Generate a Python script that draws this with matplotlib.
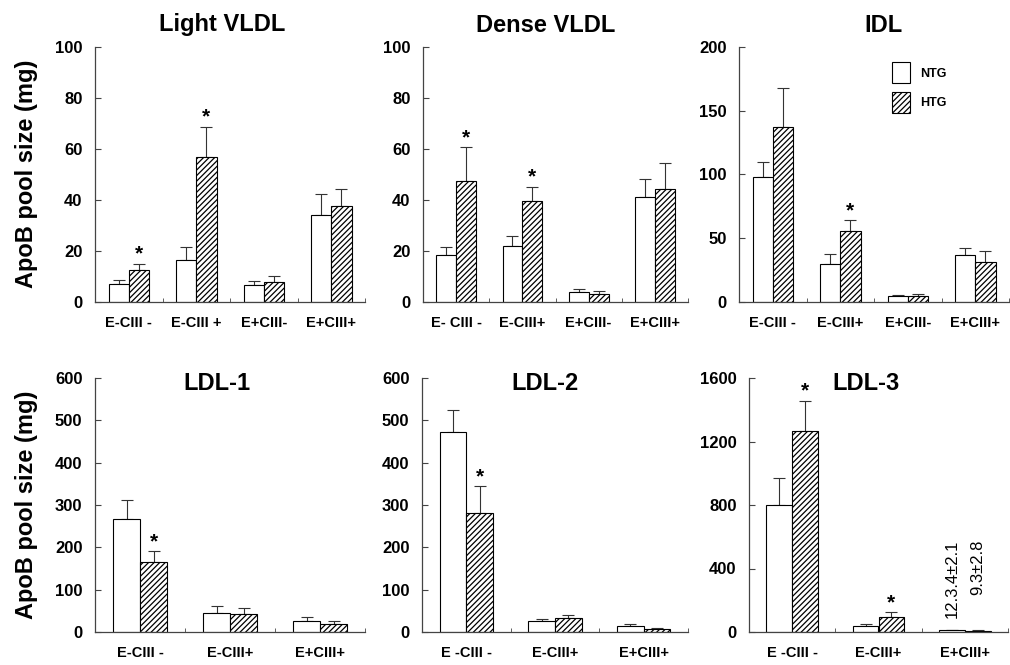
import matplotlib
matplotlib.use('Agg')
import matplotlib.pyplot as plt
from matplotlib.patches import Patch
import numpy as np

plt.rcParams['font.family'] = ['Liberation Sans', 'DejaVu Sans']
plt.rcParams['hatch.linewidth'] = 0.9

# Light VLDL
light_cats = ['E-CIII -', 'E-CIII +', 'E+CIII-', 'E+CIII+']
light_ntg = [7.0, 16.5, 6.5, 34.0]
light_ntg_err = [1.5, 4.9, 1.6, 8.2]
light_htg = [12.5, 57.0, 7.7, 37.5]
light_htg_err = [2.5, 11.8, 2.3, 6.7]
light_star = [1, 1, 0, 0]

# Dense VLDL
dense_cats = ['E- CIII -', 'E-CIII+', 'E+CIII-', 'E+CIII+']
dense_ntg = [18.5, 22.0, 4.0, 41.0]
dense_ntg_err = [3.1, 4.0, 1.1, 7.1]
dense_htg = [47.5, 39.7, 3.2, 44.3]
dense_htg_err = [13.2, 5.5, 1.1, 10.1]
dense_star = [1, 1, 0, 0]

# IDL
idl_cats = ['E-CIII -', 'E-CIII+', 'E+CIII-', 'E+CIII+']
idl_ntg = [98.0, 30.0, 4.5, 37.0]
idl_ntg_err = [11.6, 7.5, 1.0, 5.0]
idl_htg = [137.5, 55.5, 4.8, 31.5]
idl_htg_err = [30.3, 8.7, 1.2, 8.5]
idl_star = [0, 1, 0, 0]

# LDL-1
ldl1_cats = ['E-CIII -', 'E-CIII+', 'E+CIII+']
ldl1_ntg = [268.0, 46.0, 26.0]
ldl1_ntg_err = [44.0, 14.5, 8.5]
ldl1_htg = [166.0, 43.0, 20.0]
ldl1_htg_err = [24.6, 13.7, 5.0]
ldl1_star = [1, 0, 0]

# LDL-2
ldl2_cats = ['E -CIII -', 'E-CIII+', 'E+CIII+']
ldl2_ntg = [472.0, 26.0, 13.0]
ldl2_ntg_err = [53.0, 5.0, 6.0]
ldl2_htg = [280.0, 32.0, 7.0]
ldl2_htg_err = [64.0, 7.0, 1.5]
ldl2_star = [1, 0, 0]

# LDL-3
ldl3_cats = ['E -CIII -', 'E-CIII+', 'E+CIII+']
ldl3_ntg = [800.0, 40.0, 12.3]
ldl3_ntg_err = [170.0, 10.0, 2.1]
ldl3_htg = [1265.0, 95.0, 9.3]
ldl3_htg_err = [190.0, 28.0, 2.8]
ldl3_star = [1, 1, 0]
ldl3_notes = ['12.3.4\u00b12.1', '9.3\u00b12.8']

W, H = 1010, 665
fig = plt.figure(figsize=(W / 100, H / 100), dpi=100)


def px_rect(x0, x1, y_top, y_bot):
    return [x0 / W, 1 - y_bot / H, (x1 - x0) / W, (y_bot - y_top) / H]


def draw_panel(rect, cats, ntg, ntg_err, htg, htg_err, stars, ymax, ystep):
    ax = fig.add_axes(rect)
    n = len(cats)
    x = np.arange(n)
    bw = 0.3
    ax.bar(x - bw / 2, ntg, bw, color='white', edgecolor='black', linewidth=0.8, zorder=2)
    ax.bar(x + bw / 2, htg, bw, color='white', edgecolor='black', linewidth=0.8,
           hatch='//////', zorder=2)
    ax.errorbar(x - bw / 2, ntg, yerr=[np.zeros(n), ntg_err], fmt='none',
                ecolor='#333333', elinewidth=0.8, capsize=4, capthick=0.8, zorder=1)
    ax.errorbar(x + bw / 2, htg, yerr=[np.zeros(n), htg_err], fmt='none',
                ecolor='#333333', elinewidth=0.8, capsize=4, capthick=0.8, zorder=1)
    for i in range(n):
        if stars[i]:
            ax.annotate('*', (x[i] + bw / 2, htg[i] + htg_err[i]), xytext=(0, 3),
                        textcoords='offset points', ha='center', va='baseline',
                        fontsize=15, fontweight='bold')
    ax.set_xlim(-0.5, n - 0.5)
    ax.set_ylim(0, ymax)
    ax.set_yticks(np.arange(0, ymax + 1, ystep))
    ax.set_xticks(x)
    ax.set_xticklabels(cats, fontsize=10.5, fontweight='bold')
    ax.set_xticks(np.arange(n + 1) - 0.5, minor=True)
    ax.tick_params(axis='x', which='major', length=0, pad=10)
    ax.tick_params(axis='x', which='minor', direction='in', length=3, color='#444444')
    ax.tick_params(axis='y', direction='in', length=4, pad=9, labelsize=12, color='#444444')
    for lab in ax.get_yticklabels():
        lab.set_fontweight('bold')
    for s in ['top', 'right']:
        ax.spines[s].set_visible(False)
    for s in ['left', 'bottom']:
        ax.spines[s].set_color('#444444')
        ax.spines[s].set_linewidth(0.9)
    return ax


ax1 = draw_panel(px_rect(95, 365, 47, 302), light_cats, light_ntg, light_ntg_err,
                 light_htg, light_htg_err, light_star, 100, 20)
ax2 = draw_panel(px_rect(423, 688, 47, 302), dense_cats, dense_ntg, dense_ntg_err,
                 dense_htg, dense_htg_err, dense_star, 100, 20)
ax3 = draw_panel(px_rect(739, 1009, 47, 302), idl_cats, idl_ntg, idl_ntg_err,
                 idl_htg, idl_htg_err, idl_star, 200, 50)
ax4 = draw_panel(px_rect(95, 365, 378, 632), ldl1_cats, ldl1_ntg, ldl1_ntg_err,
                 ldl1_htg, ldl1_htg_err, ldl1_star, 600, 100)
ax5 = draw_panel(px_rect(422, 688, 378, 632), ldl2_cats, ldl2_ntg, ldl2_ntg_err,
                 ldl2_htg, ldl2_htg_err, ldl2_star, 600, 100)
ax6 = draw_panel(px_rect(749, 1008, 378, 632), ldl3_cats, ldl3_ntg, ldl3_ntg_err,
                 ldl3_htg, ldl3_htg_err, ldl3_star, 1600, 400)

# titles
top_titles = [('Light VLDL', 222), ('Dense VLDL', 546), ('IDL', 883)]
for t, xc in top_titles:
    fig.text(xc / W, 1 - 25 / H, t, ha='center', va='center', fontsize=17, fontweight='bold')
bottom_titles = [('LDL-1', 217), ('LDL-2', 545), ('LDL-3', 866)]
for t, xc in bottom_titles:
    fig.text(xc / W, 1 - 384 / H, t, ha='center', va='center', fontsize=17, fontweight='bold')

# y labels
for yc in [174, 505]:
    fig.text(27 / W, 1 - yc / H, 'ApoB pool size (mg)', rotation=90, ha='center', va='center',
             fontsize=17, fontweight='bold')

# legend in IDL panel
handles = [Patch(facecolor='white', edgecolor='black', linewidth=0.8, label='NTG'),
           Patch(facecolor='white', edgecolor='black', linewidth=0.8, hatch='//////', label='HTG')]
leg = ax3.legend(handles=handles, loc='upper left', bbox_to_anchor=(0.565, 0.94),
                 frameon=False, handlelength=1.5, handleheight=2.2, labelspacing=0.7,
                 handletextpad=0.8, borderpad=0, borderaxespad=0,
                 prop={'size': 9, 'weight': 'bold'})

# LDL-3 values for the small bars
for i, note in enumerate(ldl3_notes):
    xn = 2 + (i - 0.5) * 0.3
    ax6.text(xn, 0.362, note, transform=ax6.get_xaxis_transform(), rotation=90,
             ha='center', va='top', fontsize=12)

fig.savefig('out.png', dpi=100)
